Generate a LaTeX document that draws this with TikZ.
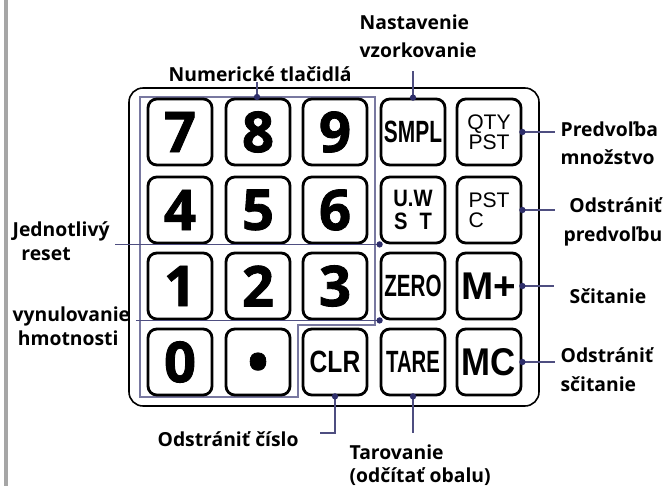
\documentclass[tikz,border=0pt]{standalone}
\usepackage{fontspec}
\usepackage{graphicx}
\setmainfont{Open Sans}
\newfontfamily\digitfont{Open Sans}[BoldFeatures={FakeBold=1.5}]
\newfontfamily\keyfont{Liberation Sans}
\definecolor{linec}{RGB}{78,78,128}
\definecolor{dotc}{RGB}{46,46,106}
\definecolor{framec}{RGB}{120,120,160}
\newcommand\narrow[2]{\scalebox{#1}[1]{#2}}
\begin{document}
\begin{tikzpicture}[x=0.02cm,y=-0.02cm,
  key/.style={draw,line width=1.6pt,rounded corners=5pt,fill=white,minimum width=1.28cm,minimum height=1.32cm,inner sep=0pt},
  digit/.style={key,font=\digitfont\fontsize{32}{32}\selectfont\bfseries},
  word/.style={key,font=\keyfont\fontsize{17.5}{17.5}\selectfont\bfseries},
  big/.style={key,font=\keyfont\fontsize{22}{22}\selectfont\bfseries},
  small/.style={key,font=\keyfont\fontsize{12}{11.3}\selectfont},
  label/.style={font=\fontsize{11}{16}\selectfont\bfseries,align=left,anchor=base west,inner sep=3pt},
  tight/.style={label,font=\fontsize{11}{13.4}\selectfont\bfseries},
  conn/.style={linec,line width=0.7pt}]
\useasboundingbox (0,0) rectangle (672,486);
\draw[gray!70,line width=2pt] (6,0) -- (6,486);
\draw[line width=0.9pt,rounded corners=8pt] (129,88) rectangle (539,406);
\draw[framec,line width=0.6pt] (140,97) -- (375,97) -- (375,325) -- (298,325) -- (298,397) -- (140,397) -- cycle;
\foreach \d/\x/\y in {7/180/132,8/258/132,9/335/132,4/180/210,5/258/210,6/335/210,1/180/286,2/258/286,3/335/286,0/180/362}
  \node[digit] (k\d) at (\x,\y) {\d};
\node[digit] (kdot) at (258,362) {\vphantom{0}•};
\node[word] (ksmpl) at (413,132) {\narrow{0.68}{SMPL}};
\node[small,align=center] (kqty) at (489,132) {QTY\\PST};
\node[key,font=\keyfont\fontsize{13.5}{13.5}\selectfont\bfseries,align=center] (kuw) at (413,210) {\narrow{0.85}{U.W}\\\narrow{0.85}{S\hspace{0.6em}T}};
\node[small,align=left] (kpstc) at (489,210) {PST\\C};
\node[word] (kzero) at (413,286) {\narrow{0.67}{ZERO}};
\node[big] (kmplus) at (489,286) {M+};
\node[word] (kclr) at (335,362) {\narrow{0.8}{CLR}};
\node[word] (ktare) at (413,362) {\narrow{0.66}{TARE}};
\node[big] (kmc) at (489,362) {\narrow{0.9}{MC}};
\node[label] (lnum) at (163,82) {Numerické tlačidlá};
\node[label] (lnas) at (354,58) {Nastavenie\\vzorkovanie};
\node[label] (lpre) at (555,165) {Predvoľba\\množstvo};
\node[label] (lodp) at (555,241) {\hspace{5pt}Odstrániť\\\hspace{1.7pt}predvoľbu};
\node[label] (lsci) at (564,303) {Sčitanie};
\node[label] (lods) at (555,391) {Odstrániť\\sčitanie};
\node[tight,font=\fontsize{11}{12.8}\selectfont\bfseries] (ltar) at (344,482) {Tarovanie\\(odčítať obalu)};
\node[label] (lcis) at (152,446) {Odstrániť číslo};
\node[tight] (ljed) at (7,260) {Jednotlivý\\\hspace{5pt}reset};
\node[tight] (lvyn) at (7,345) {vynulovanie\\\hspace{3pt}hmotnosti};
\coordinate (dnum) at (257,97);
\coordinate (ctar) at (413,433);
\coordinate (ccis) at (320,433);
\draw[conn] (dnum) -- (dnum |- lnum.base);
\draw[conn,shorten >=4pt] (ksmpl.north) -- (ksmpl.north |- lnas.south);
\draw[conn] (kqty.east) -- (lpre.west |- kqty.east);
\draw[conn] (kpstc.east) -- (lodp.west |- kpstc.east);
\draw[conn,shorten >=5.5pt] (kmplus.east) -- (lsci.west |- kmplus.east);
\draw[conn] (kmc.east) -- (lods.west |- kmc.east);
\draw[conn] (ktare.south) -- (ctar);
\draw[conn] (kclr.south) |- (ccis);
\draw[conn] (ljed.east |- kuw.south west) -- (kuw.south west);
\draw[conn] (lvyn.east |- kzero.south west) -- (kzero.south west);
\foreach \p in {dnum,ksmpl.north,kqty.east,kpstc.east,kmplus.east,kmc.east,ktare.south,kclr.south,kuw.south west,kzero.south west}
  \fill[dotc] (\p) circle (1.8pt);
\end{tikzpicture}
\end{document}
